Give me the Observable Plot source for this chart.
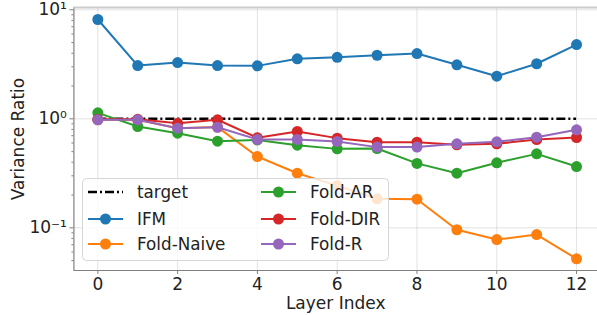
<!DOCTYPE html>
<html><head><meta charset="utf-8">
<script src="https://cdn.jsdelivr.net/npm/d3@7"></script>
<script src="https://cdn.jsdelivr.net/npm/@observablehq/plot@0.6"></script>
<style>
body{margin:0;background:#fff;}
#wrap{position:relative;width:597px;height:315px;font-family:"DejaVu Sans",sans-serif;}
#legend{position:absolute;left:82px;top:178px;}
</style></head><body><div id="wrap"></div>
<script>
const layers = [0,1,2,3,4,5,6,7,8,9,10,11,12];
const ifm       = [8.15,3.08,3.28,3.08,3.06,3.55,3.67,3.83,3.97,3.13,2.46,3.20,4.80];
const foldNaive = [0.98,0.98,0.82,0.84,0.451,0.317,0.244,0.1845,0.183,0.096,0.078,0.0867,0.052];
const foldAR    = [1.135,0.85,0.738,0.623,0.64,0.573,0.53,0.534,0.39,0.317,0.395,0.477,0.365];
const foldDIR   = [0.99,0.99,0.91,0.98,0.67,0.765,0.665,0.61,0.61,0.577,0.59,0.646,0.674];
const foldR     = [0.98,0.98,0.82,0.837,0.646,0.646,0.62,0.55,0.55,0.59,0.615,0.678,0.793];
const targetValue = 1;
const seriesNames  = ["IFM","Fold-Naive","Fold-AR","Fold-DIR","Fold-R"];
const seriesValues = [ifm, foldNaive, foldAR, foldDIR, foldR];
const seriesColors = ["#1f77b4","#ff7f0e","#2ca02c","#d62728","#9467bd"];
const xTicks = [0,2,4,6,8,10,12];
const yTicks = [0.1,1,10];
const yTickLabels = ["10\u207B\u00B9","10\u2070","10\u00B9"];

const xDomain = [-0.6, 12.525];
const yDomain = [0.0406, 10.5];
const yMinor = [];
for (const d of [0.01,0.1,1]) for (let k=2;k<=9;k++) { const v=d*k; if (v>=yDomain[0] && v<=yDomain[1]) yMinor.push(v); }

const marks = [
  Plot.gridX(xTicks, {stroke:"#b0b0b0", strokeOpacity:0.35, strokeWidth:1}),
  Plot.gridY(yTicks, {stroke:"#b0b0b0", strokeOpacity:0.35, strokeWidth:1}),
  Plot.ruleY([targetValue], {x1:0, x2:12, stroke:"black", strokeWidth:2.5, strokeDasharray:"9,3,2,3"})
];
seriesNames.forEach((name,i)=>{
  const rows = layers.map((l,j)=>({layer:l, value:seriesValues[i][j], series:name}));
  marks.push(Plot.line(rows, {x:"layer", y:"value", stroke:seriesColors[i], strokeWidth:2}));
  marks.push(Plot.dot(rows, {x:"layer", y:"value", fill:seriesColors[i], r:5.5, stroke:"none"}));
});
marks.push(
  Plot.ruleX([xDomain[0]], {stroke:"#808080", strokeWidth:1.2}),
  Plot.ruleY([yDomain[0]], {stroke:"#808080", strokeWidth:1.2}),
  Plot.ruleY([yDomain[1]], {stroke:"#cccccc", strokeWidth:2}),
  Plot.axisX({ticks:xTicks, tickSize:4, tickPadding:3, fontSize:17, stroke:"#808080",
    label:"Layer Index", labelAnchor:"center", labelArrow:"none", labelOffset:38, color:"#222"}),
  Plot.axisY({ticks:yTicks, tickSize:4, tickPadding:3, fontSize:17, stroke:"#808080",
    tickFormat:(d)=>yTickLabels[yTicks.indexOf(d)] ?? "",
    label:"Variance Ratio", labelAnchor:"center", labelArrow:"none", labelOffset:62, color:"#222"}),
  Plot.axisY({ticks:yMinor, tickSize:2, stroke:"#808080", tickFormat:()=>"", label:null})
);

const chart = Plot.plot({
  width:597, height:315,
  marginLeft:73.4, marginRight:0, marginTop:7, marginBottom:45,
  x:{domain:xDomain},
  y:{type:"log", domain:yDomain},
  style:{fontFamily:"DejaVu Sans, sans-serif", fontSize:"16px", background:"white", color:"#222"},
  marks
});
document.getElementById("wrap").appendChild(chart);

// legend
const legendItems = [{name:"target", color:"black", dash:true}].concat(seriesNames.map((n,i)=>({name:n,color:seriesColors[i]})));
const lg = d3.create("svg").attr("id","legend").attr("width",308).attr("height",84);
lg.append("rect").attr("x",0.5).attr("y",0.5).attr("width",306).attr("height",82).attr("rx",4)
  .attr("fill","white").attr("fill-opacity",0.8).attr("stroke","#d6d6d6");
const colX = [6, 179];
const rowY = [14, 41, 66];
legendItems.forEach((it,i)=>{
  const c = Math.floor(i/3), r = i%3;
  const g = lg.append("g").attr("transform",`translate(${colX[c]},${rowY[r]})`);
  g.append("line").attr("x1",0).attr("x2",35).attr("y1",0).attr("y2",0)
    .attr("stroke",it.color).attr("stroke-width",it.dash?2.5:2)
    .attr("stroke-dasharray",it.dash?"9,3,2,3":null);
  if(!it.dash) g.append("circle").attr("cx",17.5).attr("cy",0).attr("r",5.5).attr("fill",it.color);
  g.append("text").attr("x",49).attr("y",0).attr("dy","0.36em").attr("font-size",16.8)
    .attr("font-family","DejaVu Sans, sans-serif").attr("fill","#222").text(it.name);
});
document.getElementById("wrap").appendChild(lg.node());
</script></body></html>
